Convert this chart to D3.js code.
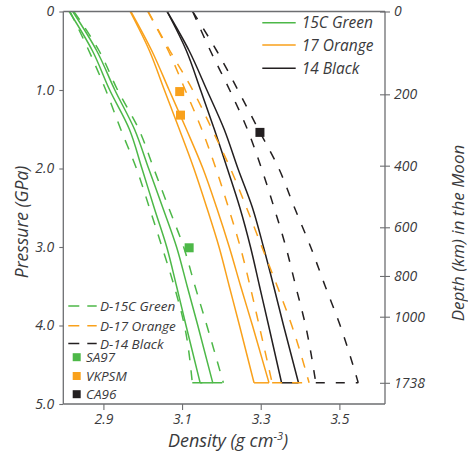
<!DOCTYPE html>
<html>
<head>
<meta charset="utf-8">
<script src="https://cdn.jsdelivr.net/npm/d3@7"></script>
<style>
  html,body{margin:0;padding:0;background:#fff;}
  svg text{font-family:"Open Sans",sans-serif;font-style:italic;fill:#3a3a3c;}
</style>
</head>
<body>
<svg id="chart" width="468" height="453"></svg>
<script>
// ── pressure grid (GPa) shared by every curve ──
const P = [0, 0.5, 1, 1.5, 2, 2.5, 3, 3.5, 4, 4.73];

// density (g cm-3) along P, two model bounds per glass
const green15C_lo  = [2.813, 2.872, 2.916, 2.966, 2.998, 3.029, 3.061, 3.086, 3.110, 3.146];
const green15C_hi  = [2.822, 2.883, 2.929, 2.979, 3.015, 3.051, 3.086, 3.113, 3.140, 3.178];
const greenD15C_lo = [2.815, 2.863, 2.906, 2.944, 2.984, 3.017, 3.049, 3.080, 3.106, 3.126];
const greenD15C_hi = [2.825, 2.889, 2.936, 2.990, 3.028, 3.066, 3.104, 3.133, 3.163, 3.205];
const orange17_lo  = [2.968, 3.017, 3.055, 3.093, 3.130, 3.163, 3.194, 3.220, 3.246, 3.283];
const orange17_hi  = [2.970, 3.023, 3.067, 3.111, 3.153, 3.188, 3.220, 3.249, 3.279, 3.321];
const orangeD17_lo = [3.013, 3.065, 3.108, 3.150, 3.186, 3.218, 3.248, 3.273, 3.296, 3.329];
const orangeD17_hi = [3.014, 3.069, 3.127, 3.176, 3.223, 3.264, 3.303, 3.342, 3.379, 3.423];
const black14_lo   = [3.062, 3.111, 3.147, 3.182, 3.215, 3.247, 3.274, 3.297, 3.320, 3.353];
const black14_hi   = [3.062, 3.118, 3.163, 3.207, 3.242, 3.279, 3.307, 3.333, 3.358, 3.396];
const blackD14_lo  = [3.127, 3.172, 3.221, 3.266, 3.302, 3.334, 3.364, 3.389, 3.414, 3.440];
const blackD14_hi  = [3.127, 3.188, 3.242, 3.294, 3.346, 3.386, 3.427, 3.464, 3.502, 3.548];

// experimental points [density, pressure]
const SA97  = [[3.118, 3.01]];
const VKPSM = [[3.094, 1.02], [3.096, 1.32]];
const CA96  = [[3.298, 1.54]];

// axes
const pTicks = [0, 1, 2, 3, 4, 5];
const dTicks = [2.9, 3.1, 3.3, 3.5];
const depthKm = [0, 200, 400, 600, 800, 1000, 1738];
const depthP  = [0, 1.055, 1.964, 2.749, 3.369, 3.888, 4.73];

const GREEN="#4db848", ORANGE="#f9a11b", BLACK="#231f20";

const svg=d3.select("#chart");
const L=63.3,R=385,T=11.5,B=404;
const x=d3.scaleLinear().domain([2.798,3.616]).range([L,R]);
const y=d3.scaleLinear().domain([0,5]).range([T,B]);
const yDepth=d3.scaleLinear().domain(depthKm).range(depthP.map(p=>y(p)));

// ── curves ──
const pairs=[
  {a:blackD14_lo, b:blackD14_hi, c:BLACK, dash:"9,11"},
  {a:black14_lo,  b:black14_hi,  c:BLACK, dash:null},
  {a:orangeD17_lo,b:orangeD17_hi,c:ORANGE,dash:"10,10"},
  {a:orange17_lo, b:orange17_hi, c:ORANGE,dash:null},
  {a:greenD15C_lo,b:greenD15C_hi,c:GREEN, dash:"10,10"},
  {a:green15C_lo, b:green15C_hi, c:GREEN, dash:null},
];
const line=d3.line().x(d=>x(d[1])).y(d=>y(d[0])).curve(d3.curveMonotoneY);
const gC=svg.append("g");
pairs.forEach(s=>{
  [s.a,s.b].forEach(arr=>{
    gC.append("path").datum(P.map((p,i)=>[p,arr[i]]))
      .attr("d",line).attr("fill","none").attr("stroke",s.c).attr("stroke-width",1.5)
      .attr("stroke-dasharray",s.dash);
  });
  const pe=P[P.length-1];
  gC.append("line").attr("x1",x(s.a[s.a.length-1])).attr("x2",x(s.b[s.b.length-1]))
    .attr("y1",y(pe)).attr("y2",y(pe)).attr("stroke",s.c).attr("stroke-width",1.5)
    .attr("stroke-dasharray",s.dash);
});

// ── markers ──
const sq=9;
[[SA97,GREEN],[VKPSM,ORANGE],[CA96,BLACK]].forEach(([pts,c])=>{
  svg.append("g").selectAll("rect").data(pts).join("rect")
    .attr("x",d=>x(d[0])-sq/2).attr("y",d=>y(d[1])-sq/2).attr("width",sq).attr("height",sq).attr("fill",c);
});

// ── frame + axes ──
const AX="#6d6e71";
svg.append("line").attr("x1",L).attr("x2",R).attr("y1",T).attr("y2",T).attr("stroke",AX).attr("stroke-width",1.3);

const gL=svg.append("g").attr("transform",`translate(${L},0)`)
  .call(d3.axisLeft(y).tickValues(pTicks).tickSize(4).tickPadding(5).tickFormat(d=>d===0?"0":d.toFixed(1)));
const gB=svg.append("g").attr("transform",`translate(0,${B})`)
  .call(d3.axisBottom(x).tickValues(dTicks).tickSize(6).tickPadding(4).tickFormat(d3.format(".1f")));
const gR=svg.append("g").attr("transform",`translate(${R},0)`)
  .call(d3.axisRight(yDepth).tickValues(depthKm).tickSize(5).tickPadding(4).tickFormat(d3.format("d")));
gR.selectAll(".tick line").attr("x1",-5);
[gL,gB,gR].forEach(g=>{
  g.select(".domain").attr("stroke",AX).attr("stroke-width",1.3).attr("d",null);
  g.selectAll(".tick line").attr("stroke",AX).attr("stroke-width",1.1);
  g.selectAll(".tick text").attr("font-size",14).attr("font-family",null).attr("fill","#3a3a3c");
});
gL.select(".domain").attr("d",`M0,${T}V${B}`);
gB.select(".domain").attr("d",`M${L},0H${R}`);
gR.select(".domain").attr("d",`M0,${T}V${B}`);

// axis titles
svg.append("text").attr("transform","translate(28,222) rotate(-90)").attr("text-anchor","middle")
  .attr("font-size",17.5).text("Pressure (GPa)");
const xt=svg.append("text").attr("x",228).attr("y",447).attr("text-anchor","middle").attr("font-size",18);
xt.append("tspan").text("Density (g cm");
xt.append("tspan").attr("font-size",11).attr("dy",-7).text("-3");
xt.append("tspan").attr("dy",7).text(")");
svg.append("text").attr("transform","translate(464,233) rotate(-90)").attr("text-anchor","middle")
  .attr("font-size",17).text("Depth (km) in the Moon");

// ── legend, top right ──
const legTop=[["15C Green",GREEN,22.7],["17 Orange",ORANGE,45],["14 Black",BLACK,68.3]];
legTop.forEach(([t,c,ly])=>{
  svg.append("line").attr("x1",262.3).attr("x2",295.7).attr("y1",ly).attr("y2",ly).attr("stroke",c).attr("stroke-width",1.5);
  svg.append("text").attr("x",301.7).attr("y",ly+5.7).attr("font-size",15.5).text(t);
});

// ── legend, bottom left ──
const legDash=[["D-15C Green",GREEN,306],["D-17 Orange",ORANGE,325.7],["D-14 Black",BLACK,343.5]];
legDash.forEach(([t,c,ly])=>{
  svg.append("line").attr("x1",68.3).attr("x2",96.7).attr("y1",ly).attr("y2",ly).attr("stroke",c)
    .attr("stroke-width",1.5).attr("stroke-dasharray","11,8");
  svg.append("text").attr("x",100).attr("y",ly+5).attr("font-size",13.5).text(t);
});
const legPts=[["SA97",GREEN,357.2],["VKPSM",ORANGE,376],["CA96",BLACK,394.2]];
legPts.forEach(([t,c,ly])=>{
  svg.append("rect").attr("x",72.7).attr("y",ly-4).attr("width",8).attr("height",8).attr("fill",c);
  svg.append("text").attr("x",86).attr("y",ly+5).attr("font-size",13.5).text(t);
});
</script>
</body>
</html>
